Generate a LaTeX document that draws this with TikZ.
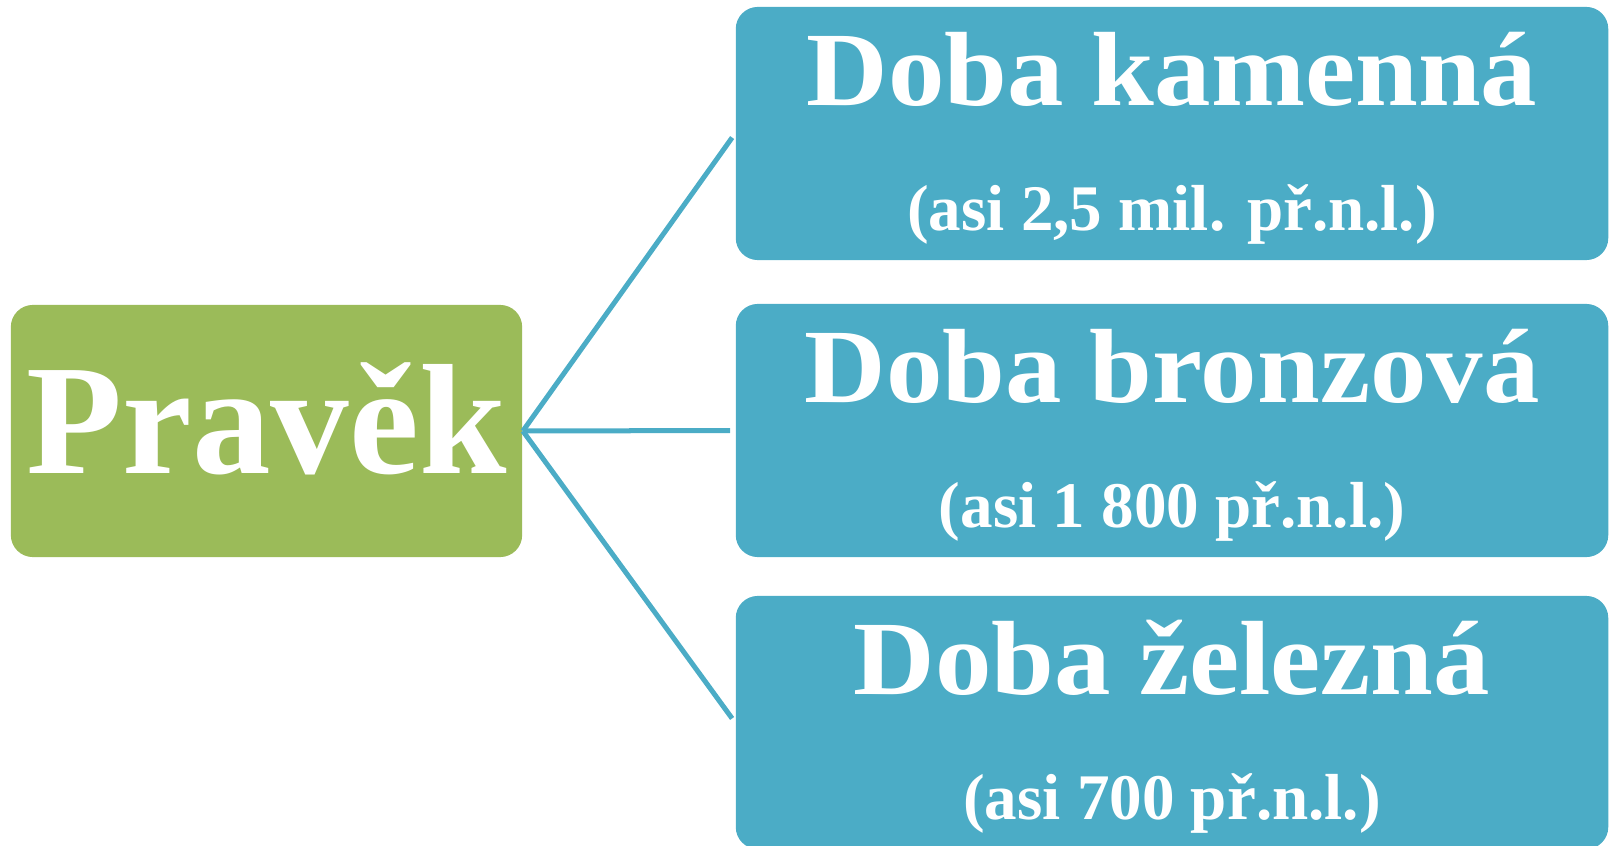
\documentclass[tikz,border=0pt]{standalone}
\usepackage{fontspec}
\setmainfont{Liberation Serif}
\newfontfamily\erafont{Liberation Serif}[FakeStretch=1.07]
\usepackage{tikz}
\usetikzlibrary{positioning}
\definecolor{rootgreen}{HTML}{9BBB59}
\definecolor{erablue}{HTML}{4BACC6}

\begin{document}
\begin{tikzpicture}[x=0.01cm, y=0.01cm,
        rootbox/.style={fill=rootgreen, rounded corners=0.22cm, minimum width=5.11cm, minimum height=2.52cm, inner sep=0},
        erabox/.style={fill=erablue, rounded corners=0.22cm, minimum width=8.72cm, minimum height=2.53cm, inner sep=0},
        eratitle/.style={anchor=base, text=white, inner sep=0, font=\erafont\fontsize{30pt}{36pt}\selectfont\bfseries},
        eradate/.style={anchor=base, text=white, inner sep=0, font=\fontsize{18.5pt}{22pt}\selectfont\bfseries},
        link/.style={draw=erablue, line width=0.05cm, shorten >=0.05cm}]
        \useasboundingbox (0,0) rectangle (1610,845);
        \node[rootbox] (pravek) at (266.5,414) {};
        \node[anchor=base, text=white, inner sep=0, font=\fontsize{44.7pt}{50pt}\selectfont\bfseries] (pravektext) at ([yshift=-0.42cm]pravek.center) {Pravěk};
        \foreach \era/\eray/\eraname/\eradatum in {kamen/711.5/Doba kamenná/{(asi 2,5 mil. př.n.l.)},
                bronz/414.5/Doba bronzová/{(asi 1 800 př.n.l.)},
                zelezo/122.5/Doba železná/{(asi 700 př.n.l.)}}{
            \node[erabox] (\era) at (1172,\eray) {};
            \node[eratitle] (\era title) at ([yshift=-0.99cm]\era.north) {\eraname};
            \node[eradate] (\era date) at ([yshift=-2.24cm]\era.north) {\eradatum};
            \draw[link] (pravek.east) -- (\era.west);
        }
    \end{tikzpicture}
\end{document}
